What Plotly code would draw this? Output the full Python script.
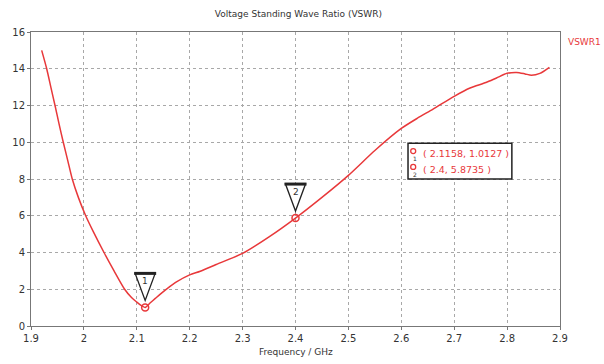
import plotly.graph_objects as go

# Data
freq_ghz = [1.9202, 1.9297, 1.9375, 1.9454, 1.953, 1.961, 1.9695, 1.978, 1.9895, 2.0034, 2.018,
            2.038, 2.057, 2.077, 2.09, 2.1, 2.108, 2.1158, 2.125, 2.135, 2.145, 2.158, 2.175,
            2.2, 2.22, 2.25, 2.3, 2.35, 2.4, 2.45, 2.5, 2.55, 2.6, 2.63, 2.66, 2.7,
            2.73, 2.76, 2.78, 2.8, 2.818, 2.834, 2.846, 2.862, 2.88]
vswr = [15.0, 14.0, 13.0, 12.0, 11.0, 10.0, 9.0, 8.0, 7.0, 6.0, 5.12,
        4.0, 3.0, 2.0, 1.55, 1.3, 1.12, 1.0127, 1.25, 1.5, 1.75, 2.05, 2.4,
        2.78, 2.98, 3.35, 3.95, 4.85, 5.8735, 7.0, 8.2, 9.55, 10.75, 11.3, 11.8, 12.5,
        12.95, 13.25, 13.5, 13.75, 13.8, 13.72, 13.65, 13.75, 14.08]

marker_ids = ["1", "2"]
marker_x = [2.1158, 2.4]
marker_y = [1.0127, 5.8735]
marker_labels = ["( 2.1158, 1.0127 )", "( 2.4, 5.8735 )"]

x_ticks = [1.9, 2.0, 2.1, 2.2, 2.3, 2.4, 2.5, 2.6, 2.7, 2.8, 2.9]
x_tick_text = ["1.9", "2", "2.1", "2.2", "2.3", "2.4", "2.5", "2.6", "2.7", "2.8", "2.9"]
y_ticks = [0, 2, 4, 6, 8, 10, 12, 14, 16]

RED = "#e8383a"
FONT = "DejaVu Sans"

fig = go.Figure()
fig.add_trace(go.Scatter(x=freq_ghz, y=vswr, mode="lines",
                         line=dict(color=RED, width=1.5, shape="spline", smoothing=0.7),
                         hoverinfo="skip", showlegend=False))
fig.add_trace(go.Scatter(x=marker_x, y=marker_y, mode="markers",
                         marker=dict(symbol="circle-open", size=7, color=RED,
                                     line=dict(width=1.5, color=RED)),
                         showlegend=False))

shapes = []
annotations = []
for mid, mx, my in zip(marker_ids, marker_x, marker_y):
    shapes.append(dict(type="path", xref="x", yref="y", xsizemode="pixel", ysizemode="pixel",
                       xanchor=mx, yanchor=my, path="M-10,34 L10,34 L0,7 Z",
                       line=dict(color="#222222", width=1.3), fillcolor="white"))
    shapes.append(dict(type="path", xref="x", yref="y", xsizemode="pixel", ysizemode="pixel",
                       xanchor=mx, yanchor=my, path="M-11,34 L11,34",
                       line=dict(color="#222222", width=3)))
    annotations.append(dict(x=mx, y=my, xref="x", yref="y", text=mid, showarrow=False,
                            yshift=26, font=dict(family=FONT, size=9, color="#333333")))

# Marker readout box
shapes.append(dict(type="rect", xref="paper", yref="paper", x0=0.7127, x1=0.909, y0=0.5, y1=0.622,
                   line=dict(color="#222222", width=1.5), fillcolor="white", layer="above"))
for i, (mid, lab) in enumerate(zip(marker_ids, marker_labels)):
    yp = 0.587 - i * 0.054
    annotations.append(dict(x=0.737, y=yp, xref="paper", yref="paper", text=lab, showarrow=False,
                            xanchor="left", yanchor="middle",
                            font=dict(family=FONT, size=9.5, color=RED)))
    shapes.append(dict(type="circle", xref="paper", yref="paper", xsizemode="pixel",
                       ysizemode="pixel", xanchor=0.7225, yanchor=yp + 0.008,
                       x0=-2.5, x1=2.5, y0=-2.5, y1=2.5, line=dict(color=RED, width=1.3),
                       layer="above"))
    annotations.append(dict(x=0.725, y=yp - 0.016, xref="paper", yref="paper", text=mid,
                            showarrow=False, xanchor="center", yanchor="middle",
                            font=dict(family=FONT, size=6, color="#333333")))

annotations.append(dict(x=0.5, y=-0.088, xref="paper", yref="paper", text="Frequency / GHz",
                        showarrow=False, xanchor="center", yanchor="middle",
                        font=dict(family=FONT, size=9, color="#333333")))
annotations.append(dict(x=1.0116, y=0.966, xref="paper", yref="paper", text="VSWR1",
                        showarrow=False, xanchor="left", yanchor="middle",
                        font=dict(family=FONT, size=9, color=RED)))

axis_common = dict(showline=True, linecolor="#777777", linewidth=1, mirror=True,
                   showgrid=True, gridcolor="#a8a8a8", griddash="dot", gridwidth=1,
                   ticks="outside", ticklen=3, tickcolor="#777777", zeroline=False,
                   tickfont=dict(family=FONT, size=10, color="#333333"))

fig.update_layout(
    width=604, height=364,
    margin=dict(l=31, r=44, t=32, b=38),
    paper_bgcolor="white", plot_bgcolor="white",
    title=dict(text="Voltage Standing Wave Ratio (VSWR)", x=0.494, xanchor="center",
               y=1 - 14 / 364, yanchor="middle",
               font=dict(family=FONT, size=9, color="#333333")),
    xaxis=dict(range=[1.9, 2.9], tickvals=x_ticks, ticktext=x_tick_text, **axis_common),
    yaxis=dict(range=[0, 16], tickvals=y_ticks, **axis_common),
    shapes=shapes, annotations=annotations, showlegend=False,
)

fig.write_html("out.html")
